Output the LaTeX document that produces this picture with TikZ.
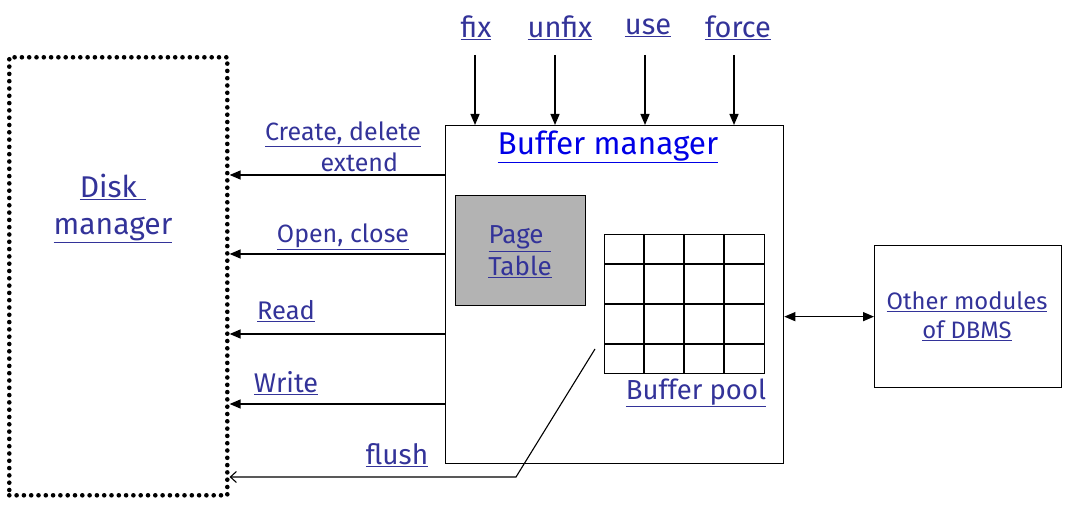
\documentclass[tikz,border=0pt]{standalone}
\usepackage{fontspec}
\setmainfont{Fira Sans}
\usetikzlibrary{arrows.meta}
\definecolor{lblc}{RGB}{51,51,153}
\definecolor{bmc}{RGB}{0,0,230}
\definecolor{ptc}{RGB}{179,179,179}
\newcommand{\myul}[1]{\underline{#1}}
\newsavebox{\myulbox}
\newcommand{\ulpad}[2]{\sbox{\myulbox}{#2}\rlap{\rule[-0.16em]{\dimexpr #1+\wd\myulbox\relax}{0.04em}}\hspace*{#1}\usebox{\myulbox}}
\begin{document}
\begin{tikzpicture}[x=1pt,y=-1pt,
  lbl/.style={text=lblc,font=\fontsize{25}{31}\selectfont,inner sep=0pt,align=center},
  toplbl/.style={lbl,font=\fontsize{29}{36}\selectfont},
  big/.style={text=lblc,font=\fontsize{30}{37}\selectfont,inner sep=0pt,align=center},
  box/.style={draw,line width=1.3pt,inner sep=0pt,anchor=north west},
  dotbox/.style={draw,line width=4.6pt,line cap=round,dash pattern=on 0pt off 7.3pt,inner sep=0pt,anchor=north west},
  arr/.style={-{Triangle[length=11pt,width=9pt]},line width=1.3pt},
  darr/.style={{Triangle[length=11pt,width=9pt]}-{Triangle[length=11pt,width=9pt]},line width=1.3pt},
  oarr/.style={-{Straight Barb[length=6pt,width=11pt]},line width=1.1pt}]
\useasboundingbox (0,0) rectangle (1070,526);
% boxes
\node[dotbox,minimum width=218pt,minimum height=438pt] (disk) at (7,55) {};
\node[box,minimum width=338pt,minimum height=338pt] (bm) at (445,125) {};
\node[box,fill=ptc,minimum width=130pt,minimum height=110pt] (pt) at (455,195) {};
\node[box,minimum width=160pt,minimum height=139pt] (pool) at (604,234) {};
\node[box,minimum width=187pt,minimum height=142pt] (other) at (874,245) {};
% grid lines
\foreach \x in {644,684,724} \draw[line width=1.3pt] (\x,234) -- (\x,373);
\foreach \y in {264,304,344} \draw[line width=1.3pt] (604,\y) -- (764,\y);
% texts
\node[big] (disklbl) at (113,208) {\myul{Disk\hspace*{0.3em}}\\\myul{manager}};
\node[big,text=bmc,font=\fontsize{31.5}{38}\selectfont] (bmlbl) at (608,147) {\myul{Buffer manager}};
\node[lbl,font=\fontsize{26}{32}\selectfont] (ptlbl) at (520,252) {\myul{Page\hspace*{0.3em}}\\\myul{Table}};
\node[lbl,font=\fontsize{27.5}{34}\selectfont] (poollbl) at (696,393) {\myul{Buffer pool}};
\node[lbl,font=\fontsize{23.8}{29}\selectfont] (otherlbl) at (967,316) {\myul{Other modules}\\\myul{of DBMS}};
\node[toplbl] (fix) at (476,28) {\myul{fix}};
\node[toplbl] (unfix) at (560,28) {\myul{unfix}};
\node[toplbl] (use) at (648,28) {\myul{use}};
\node[toplbl] (force) at (738,28) {\myul{force}};
\node[lbl] (cd) at (343,149) {\myul{Create, delete}\\\ulpad{1.3em}{extend}};
\node[lbl] (oc) at (343,237) {\myul{Open, close}};
\node[lbl,font=\fontsize{25.5}{31}\selectfont] (rd) at (286,311) {\myul{Read}};
\node[lbl,font=\fontsize{27}{33}\selectfont] (wr) at (286,383) {\myul{Write}};
\node[lbl,font=\fontsize{28}{34}\selectfont] (fl) at (397,455) {\myul{flush}};
% top arrows
\coordinate (t1) at (475,55);
\coordinate (t2) at (555,55);
\coordinate (t3) at (645,55);
\coordinate (t4) at (734,55);
\foreach \t in {t1,t2,t3,t4} \draw[arr] (\t) -- (\t |- bm.north);
% left arrows
\foreach \y in {175,254,334,404} \draw[arr] (bm.west |- 0,\y) -- (disk.east |- 0,\y);
% flush
\coordinate (f1) at (595,349);
\coordinate (f2) at (516,477);
\draw[oarr] (f1) -- (f2) -- (disk.east |- f2);
% other modules
\draw[darr] (bm.east |- other.west) -- (other.west);
\end{tikzpicture}
\end{document}
